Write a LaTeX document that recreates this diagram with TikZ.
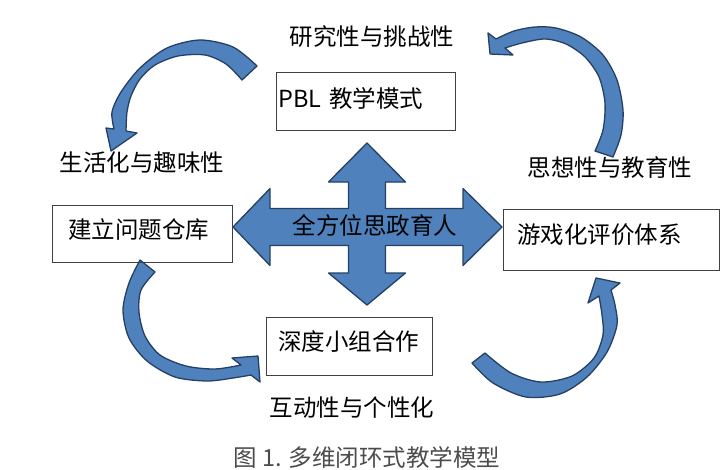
\documentclass[tikz,border=0pt]{standalone}
\usepackage{fontspec}
\usepackage{tikz}
\newfontfamily\cjk{Noto Sans CJK SC}
\usetikzlibrary{positioning}
\definecolor{arrowfill}{RGB}{79,129,189}
\definecolor{arrowline}{RGB}{38,64,100}

\begin{document}
\begin{tikzpicture}[x=1pt, y=-1pt,
    box/.style={draw=black!75, line width=0.8pt, anchor=north west,
      inner ysep=0pt, align=left, font=\cjk\fontsize{23.5}{27}\selectfont},
    lbl/.style={font=\cjk\fontsize{23.5}{27}\selectfont, inner sep=0pt},
    bluearrow/.style={fill=arrowfill, draw=arrowline, line width=1.3pt,
      line join=round}]
  \useasboundingbox (0,0) rectangle (727,469);

  % Cross arrow in the middle
  \filldraw[bluearrow] (233,227) -- (270,188.5) -- (270,208.5)
    -- (348.5,208.5) -- (348.5,182) -- (328.5,182) -- (367,143)
    -- (405.5,182) -- (385.5,182) -- (385.5,208.5) -- (463,208.5)
    -- (463,188.5) -- (502,227) -- (463,265.5) -- (463,245.5)
    -- (385.5,245.5) -- (385.5,273) -- (405.5,273) -- (367,305)
    -- (328.5,273) -- (348.5,273) -- (348.5,245.5) -- (270,245.5)
    -- (270,265.5) -- cycle;
  \node[lbl] (hub) at (375,225) {全方位思政育人};

  % Curved arrows round the loop
  \filldraw[bluearrow]
    plot[smooth] coordinates {(257,66) (233,47) (200,40) (167,48)
      (140,68) (121,92) (112,112) (114,129)}
    -- (106,128) -- (111,151) -- (137,133) -- (126,131)
    -- plot[smooth] coordinates {(126,131) (127,112) (131,96) (140,79)
      (155,65) (178,56) (205,55) (226,64) (242,80)}
    -- cycle;
  \filldraw[bluearrow]
    plot[smooth] coordinates {(140,260) (129,283) (123,310) (129,338)
      (147,361) (175,377) (207,381) (233,378) (251,375)}
    -- (260,382) -- (258,356) -- (232,358) -- (241,365)
    -- plot[smooth] coordinates {(241,365) (215,369) (186,366) (160,355)
      (145,336) (139,312) (141,290) (155,272)}
    -- cycle;
  \filldraw[bluearrow]
    plot[smooth] coordinates {(472,363) (493,383) (526,397) (560,394)
      (587,377) (607,352) (617,325) (615,305) (611,290)}
    -- (620,283) -- (596,278) -- (588,303) -- (599,296)
    -- plot[smooth] coordinates {(599,296) (602,315) (603,335) (594,358)
      (572,376) (541,382) (511,373) (485,353)}
    -- cycle;
  \filldraw[bluearrow]
    plot[smooth] coordinates {(613,157) (621,135) (623,110) (617,80)
      (603,55) (581,37) (556,28) (535,27) (514,31) (496,39)}
    -- (488,33) -- (490,54) -- (513,55) -- (505,48)
    -- plot[smooth] coordinates {(505,48) (522,43) (545,39) (566,44)
      (585,57) (599,77) (605,103) (603,130) (595,151)}
    -- cycle;

  % Boxes
  \node[box, inner xsep=2pt, text width=175pt, text height=35pt,
    text depth=23pt] (pbl) at (276,72) {PBL 教学模式};
  \node[box, inner xsep=16pt, text width=148pt, text height=33pt,
    text depth=24pt] (bank) at (52,205) {建立问题仓库};
  \node[box, inner xsep=14pt, text width=188pt, text height=34pt,
    text depth=27pt] (game) at (503,209) {游戏化评价体系};
  \node[box, inner xsep=12pt, text width=142pt, text height=33pt,
    text depth=25pt] (group) at (266,317) {深度小组合作};

  % Labels
  \node[lbl] (research) at (372,37) {研究性与挑战性};
  \node[lbl] (life) at (142,163) {生活化与趣味性};
  \node[lbl] (thought) at (610,168) {思想性与教育性};
  \node[lbl] (interact) at (352,408) {互动性与个性化};
  \node[lbl, text=black!70] (caption) at (367,457)
    {图 1. 多维闭环式教学模型};

\end{tikzpicture}
\end{document}
